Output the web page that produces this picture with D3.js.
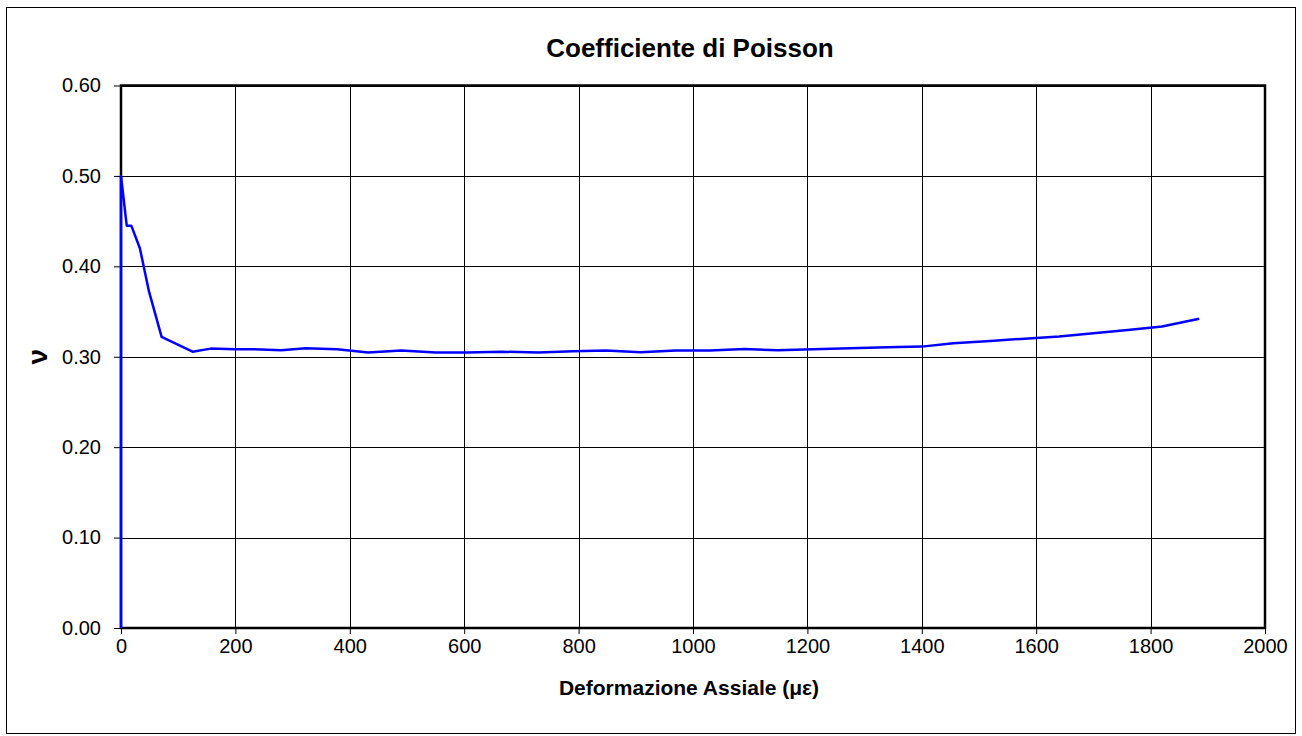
<!DOCTYPE html>
<html>
<head>
<meta charset="utf-8">
<script src="https://cdn.jsdelivr.net/npm/d3@7"></script>
<style>
  html, body { margin: 0; padding: 0; background: #fff; }
  svg { display: block; font-family: "Liberation Sans", Arial, sans-serif; }
</style>
</head>
<body>
<svg id="chart" width="1302" height="736"></svg>
<script>
const strain = [0, 0, 10, 18, 33, 49, 71, 125, 157, 200, 233, 280, 323, 378, 432, 490, 550, 605, 665, 730, 790, 848, 908, 970, 1030, 1090, 1148, 1210, 1275, 1340, 1400, 1455, 1520, 1580, 1640, 1700, 1760, 1820, 1885];
const poisson = [0, 0.5, 0.445, 0.445, 0.420, 0.372, 0.322, 0.3056, 0.309, 0.3083, 0.3083, 0.3072, 0.3095, 0.3083, 0.3046, 0.3068, 0.3046, 0.3046, 0.3056, 0.3046, 0.306, 0.307, 0.305, 0.3068, 0.307, 0.3086, 0.3072, 0.3083, 0.3095, 0.3105, 0.3112, 0.315, 0.3175, 0.320, 0.3225, 0.326, 0.3295, 0.3335, 0.342];
const xTicks = [0, 200, 400, 600, 800, 1000, 1200, 1400, 1600, 1800, 2000];
const yTicks = [0, 0.1, 0.2, 0.3, 0.4, 0.5, 0.6];
const titleText = "Coefficiente di Poisson";
const xTitle = "Deformazione Assiale (\u03bc\u03b5)";
const yTitle = "\u03bd";

const svg = d3.select("#chart");
const m = { left: 121, right: 1265, top: 85.5, bottom: 628 };

// outer frame
svg.append("rect").attr("x", 6.5).attr("y", 7.5).attr("width", 1289).attr("height", 726)
  .attr("fill", "#fff").attr("stroke", "#000").attr("stroke-width", 1);

const x = d3.scaleLinear().domain([0, 2000]).range([m.left, m.right]);
const y = d3.scaleLinear().domain([0, 0.6]).range([m.bottom, m.top]);

// grid
const grid = svg.append("g");
grid.selectAll("line.h").data(yTicks).join("line")
  .attr("x1", m.left).attr("x2", m.right)
  .attr("y1", d => Math.round(y(d)) + 0.5).attr("y2", d => Math.round(y(d)) + 0.5)
  .attr("stroke", "#000").attr("stroke-width", 1);
grid.selectAll("line.v").data(xTicks).join("line")
  .attr("y1", m.top).attr("y2", m.bottom)
  .attr("x1", d => Math.round(x(d)) + 0.5).attr("x2", d => Math.round(x(d)) + 0.5)
  .attr("stroke", "#000").attr("stroke-width", 1);

// axes
const xAxis = d3.axisBottom(x).tickValues(xTicks).tickFormat(d3.format("d")).tickSizeOuter(0).tickSize(6).tickPadding(5);
const gx = svg.append("g").attr("transform", `translate(0,${m.bottom})`).call(xAxis);
gx.select(".domain").remove();
gx.selectAll("text").attr("font-size", 20).attr("font-family", "Liberation Sans, Arial, sans-serif").attr("fill", "#000");
gx.selectAll("line").attr("stroke", "#000");

const yAxis = d3.axisLeft(y).tickValues(yTicks).tickFormat(d3.format(".2f")).tickSizeOuter(0).tickSize(7).tickPadding(13);
const gy = svg.append("g").attr("transform", `translate(${m.left},0)`).call(yAxis);
gy.select(".domain").remove();
gy.selectAll("text").attr("font-size", 20).attr("font-family", "Liberation Sans, Arial, sans-serif").attr("fill", "#000");
gy.selectAll("line").attr("stroke", "#000");

// plot frame
svg.append("rect").attr("x", m.left).attr("y", m.top)
  .attr("width", m.right - m.left).attr("height", m.bottom - m.top)
  .attr("fill", "none").attr("stroke", "#000").attr("stroke-width", 2.5);

// line
const data = strain.map((s, i) => ({ s, v: poisson[i] }));
svg.append("path").datum(data)
  .attr("fill", "none").attr("stroke", "#0000ff").attr("stroke-width", 2.5)
  .attr("stroke-linejoin", "round")
  .attr("d", d3.line().x(d => x(d.s)).y(d => y(d.v)));

// titles
svg.append("text").attr("x", 690).attr("y", 57).attr("text-anchor", "middle")
  .attr("font-size", 26).attr("font-weight", "bold").text(titleText);
svg.append("text").attr("x", 689).attr("y", 695).attr("text-anchor", "middle")
  .attr("font-size", 21).attr("font-weight", "bold").text(xTitle);
svg.append("text").attr("transform", `translate(47,${y(0.3)}) rotate(-90)`)
  .attr("text-anchor", "middle").attr("font-size", 28).attr("font-weight", "bold").text(yTitle);
</script>
</body>
</html>
